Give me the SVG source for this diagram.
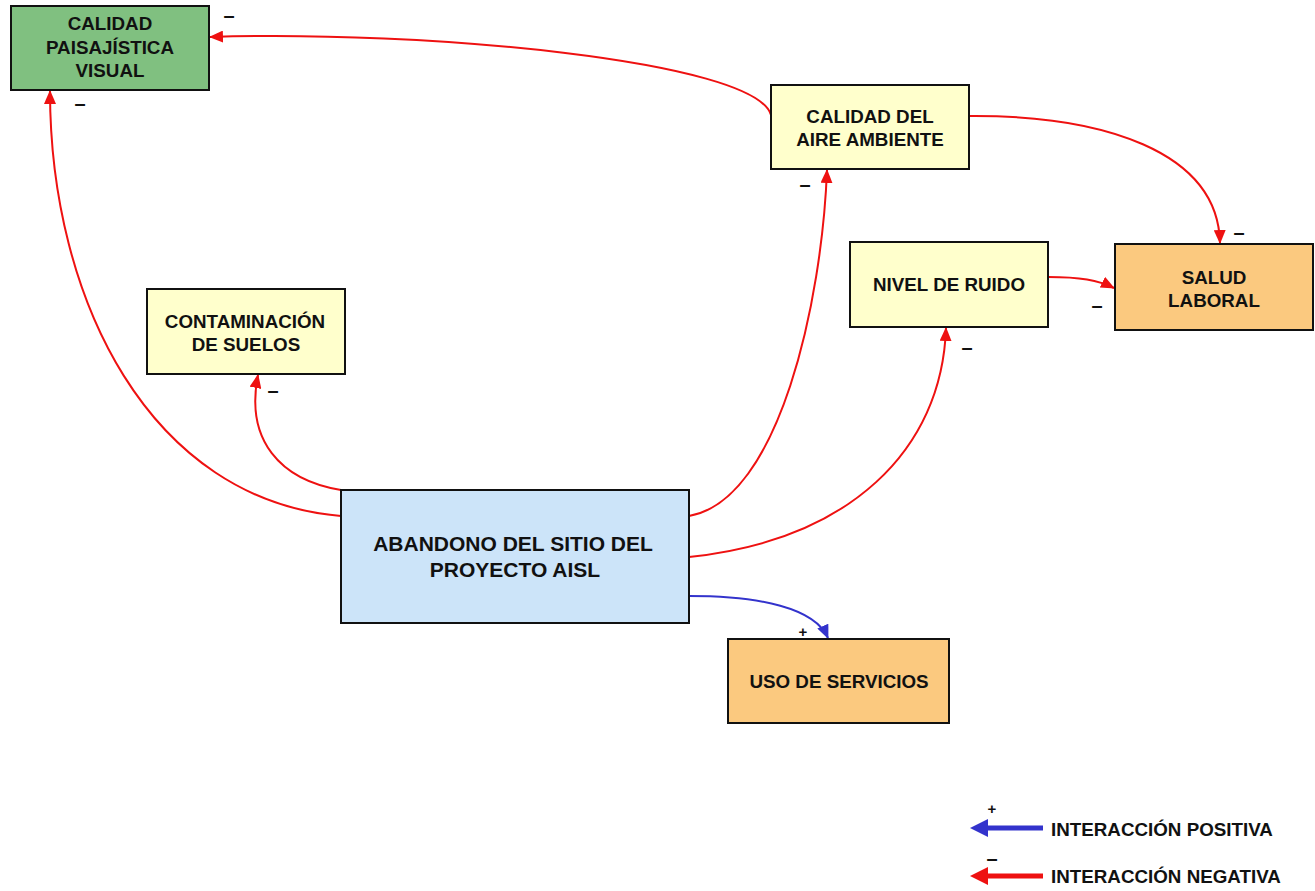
<svg xmlns="http://www.w3.org/2000/svg" width="1315" height="891" viewBox="0 0 1315 891">
<defs>
<style>
.box{stroke:#111;stroke-width:2}
.t{font-family:"Liberation Sans",Arial,sans-serif;font-weight:bold;font-size:18.8px;fill:#111;text-anchor:middle}
.big{font-size:21px}
.s{font-family:"Liberation Sans",Arial,sans-serif;font-weight:bold;font-size:20px;fill:#111;text-anchor:middle}
.r{fill:none;stroke:#ee1111;stroke-width:2}
.b{fill:none;stroke:#3333cc;stroke-width:2}
.lg{font-family:"Liberation Sans",Arial,sans-serif;font-weight:bold;font-size:18.8px;fill:#111}
</style>
<marker id="ar" markerUnits="userSpaceOnUse" markerWidth="14" markerHeight="12" refX="13" refY="6" orient="auto"><path d="M0,0 L14,6 L0,12 Z" fill="#ee1111"/></marker>
<marker id="ab" markerUnits="userSpaceOnUse" markerWidth="14" markerHeight="12" refX="13" refY="6" orient="auto"><path d="M0,0 L14,6 L0,12 Z" fill="#3333cc"/></marker>
</defs>
<rect width="1315" height="891" fill="#fff"/>
<g id="connectors">
<path class="r" d="M771,115 C755,60 420,30 210,37" marker-end="url(#ar)"/>
<path class="r" d="M969,116 C1100,115 1218,150 1220,243" marker-end="url(#ar)"/>
<path class="r" d="M1048,277 C1080,277 1098,280 1114,288" marker-end="url(#ar)"/>
<path class="r" d="M341,516 C150,500 50,300 50,91" marker-end="url(#ar)"/>
<path class="r" d="M341,490 C280,480 245,440 258,375" marker-end="url(#ar)"/>
<path class="r" d="M689,516 C780,500 822,300 827,170" marker-end="url(#ar)"/>
<path class="r" d="M689,557 C850,540 942,450 946,328" marker-end="url(#ar)"/>
<path class="b" d="M689,596 C760,596 815,608 828,638" marker-end="url(#ab)"/>
</g>
<g id="paisajistica"><rect class="box" x="11" y="6" width="198" height="84" fill="#80c080"/>
<text class="t" x="110" y="30">CALIDAD</text><text class="t" x="110" y="54">PAISAJÍSTICA</text><text class="t" x="110" y="77">VISUAL</text></g>
<g id="aire"><rect class="box" x="771" y="85" width="198" height="84" fill="#ffffcc"/>
<text class="t" x="870" y="123">CALIDAD DEL</text><text class="t" x="870" y="146">AIRE AMBIENTE</text></g>
<g id="ruido"><rect class="box" x="850" y="242" width="198" height="85" fill="#ffffcc"/>
<text class="t" x="949" y="291">NIVEL DE RUIDO</text></g>
<g id="salud"><rect class="box" x="1115" y="244" width="198" height="86" fill="#fbc97f"/>
<text class="t" x="1214" y="284">SALUD</text><text class="t" x="1214" y="307">LABORAL</text></g>
<g id="suelos"><rect class="box" x="147" y="289" width="198" height="85" fill="#ffffcc"/>
<text class="t" x="245" y="328">CONTAMINACIÓN</text><text class="t" x="246" y="351">DE SUELOS</text></g>
<g id="abandono"><rect class="box" x="341" y="490" width="348" height="133" fill="#cce4f9"/>
<text class="t big" x="513" y="551">ABANDONO DEL SITIO DEL</text><text class="t big" x="515" y="577">PROYECTO AISL</text></g>
<g id="servicios"><rect class="box" x="728" y="639" width="221" height="84" fill="#fbc97f"/>
<text class="t" x="839" y="688">USO DE SERVICIOS</text></g>
<g id="signs">
<text class="s" x="229" y="22">–</text>
<text class="s" x="80" y="110">–</text>
<text class="s" x="805" y="191">–</text>
<text class="s" x="1239" y="239">–</text>
<text class="s" x="1097" y="312">–</text>
<text class="s" x="967" y="354">–</text>
<text class="s" x="273" y="397">–</text>
<text class="s" x="803" y="637" style="font-size:15px">+</text>
</g>
<g id="legend">
<text class="s" x="992" y="814" style="font-size:15px">+</text>
<line x1="1043" y1="828" x2="985" y2="828" stroke="#3333cc" stroke-width="5"/>
<path d="M970,828 L988,819 L988,837 Z" fill="#3333cc"/>
<text class="lg" x="1051" y="836">INTERACCIÓN POSITIVA</text>
<text class="s" x="992" y="865">–</text>
<line x1="1043" y1="876" x2="985" y2="876" stroke="#ee1111" stroke-width="5"/>
<path d="M970,876 L988,867 L988,885 Z" fill="#ee1111"/>
<text class="lg" x="1051" y="883">INTERACCIÓN NEGATIVA</text>
</g>
</svg>
